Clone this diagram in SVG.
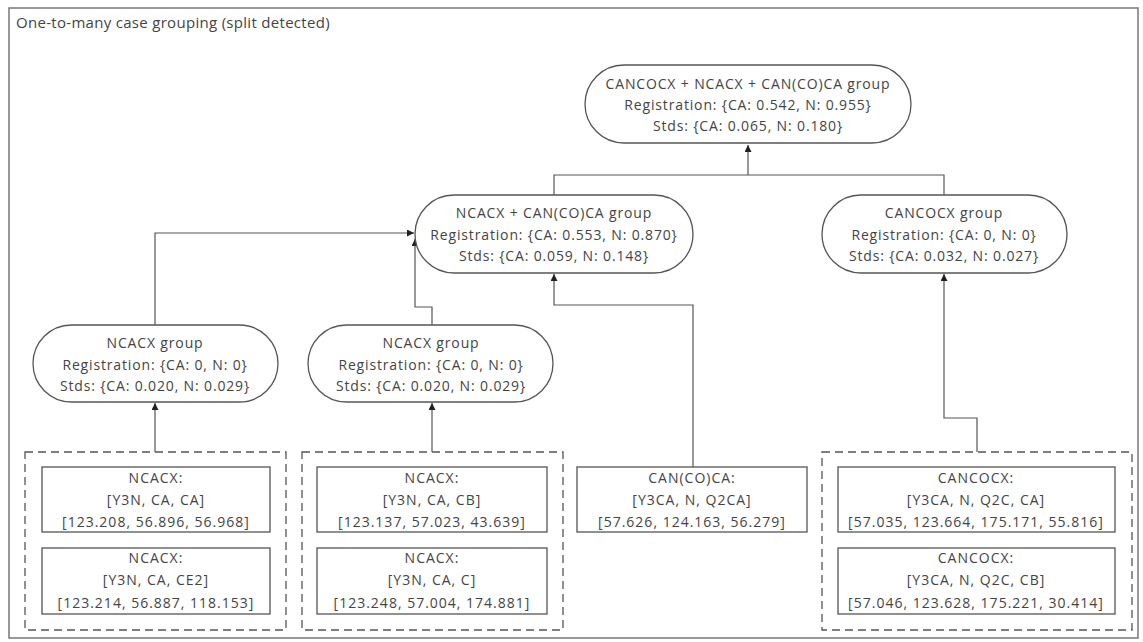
<svg xmlns="http://www.w3.org/2000/svg" width="1143" height="642" viewBox="0 0 1143 642">
  <style>
    text { font-family: "Open Sans", "Liberation Sans", sans-serif; fill: #444; }
    .t { font-size: 14px; letter-spacing: 0.85px; text-anchor: middle; }
    .c { font-size: 14px; letter-spacing: 1px; text-anchor: middle; }
    .title { font-size: 15px; letter-spacing: 0.3px; }
    .pill { fill: #fff; stroke: #555; stroke-width: 1.3; }
    .box { fill: #fff; stroke: #555; stroke-width: 1.3; }
    .dash { fill: none; stroke: #555; stroke-width: 1.3; stroke-dasharray: 8 5; }
    .edge { fill: none; stroke: #555; stroke-width: 1.2; }
  </style>
  <defs>
    <marker id="arr" viewBox="0 0 10 10" refX="10" refY="5" markerWidth="7" markerHeight="7" orient="auto" markerUnits="userSpaceOnUse">
      <path d="M0,0 L10,5 L0,10 Z" fill="#222"/>
    </marker>
  </defs>
  <rect x="0" y="0" width="1143" height="642" fill="#fff"/>
  <!-- frame -->
  <rect x="9" y="8" width="1129" height="630" fill="none" stroke="#777" stroke-width="1.5"/>
  <text class="title" x="16" y="28">One-to-many case grouping (split detected)</text>

  <g id="connectors">
    <path class="edge" d="M554,195 V175 H944 V195"/>
    <path class="edge" d="M748,175 V145" marker-end="url(#arr)"/>
    <path class="edge" d="M155,325 V233 H414" marker-end="url(#arr)"/>
    <path class="edge" d="M432,325 V307 H415 V239" marker-end="url(#arr)"/>
    <path class="edge" d="M693,467 V305 H554 V274" marker-end="url(#arr)"/>
    <path class="edge" d="M977,452 V418 H944 V274" marker-end="url(#arr)"/>
    <path class="edge" d="M155,452 V403" marker-end="url(#arr)"/>
    <path class="edge" d="M432,452 V403" marker-end="url(#arr)"/>
  </g>

  <g id="all-group">
    <rect class="pill" x="585" y="65" width="326" height="78" rx="39"/>
    <text class="t" x="748" y="89">CANCOCX + NCACX + CAN(CO)CA group</text>
    <text class="t" x="748" y="110">Registration: {CA: 0.542, N: 0.955}</text>
    <text class="t" x="748" y="131">Stds: {CA: 0.065, N: 0.180}</text>
  </g>

  <g id="ncacx-cancoca-group">
    <rect class="pill" x="415" y="195" width="278" height="78" rx="39"/>
    <text class="t" x="554" y="218">NCACX + CAN(CO)CA group</text>
    <text class="t" x="554" y="240">Registration: {CA: 0.553, N: 0.870}</text>
    <text class="t" x="554" y="261">Stds: {CA: 0.059, N: 0.148}</text>
  </g>

  <g id="cancocx-group">
    <rect class="pill" x="822" y="195" width="245" height="78" rx="39"/>
    <text class="t" x="944" y="218">CANCOCX group</text>
    <text class="t" x="944" y="240">Registration: {CA: 0, N: 0}</text>
    <text class="t" x="944" y="261">Stds: {CA: 0.032, N: 0.027}</text>
  </g>

  <g id="ncacx-group-1">
    <rect class="pill" x="33" y="325" width="245" height="77" rx="38.5"/>
    <text class="t" x="155" y="348">NCACX group</text>
    <text class="t" x="155" y="370">Registration: {CA: 0, N: 0}</text>
    <text class="t" x="155" y="391">Stds: {CA: 0.020, N: 0.029}</text>
  </g>

  <g id="ncacx-group-2">
    <rect class="pill" x="308" y="325" width="245" height="77" rx="38.5"/>
    <text class="t" x="431" y="348">NCACX group</text>
    <text class="t" x="431" y="370">Registration: {CA: 0, N: 0}</text>
    <text class="t" x="431" y="391">Stds: {CA: 0.020, N: 0.029}</text>
  </g>

  <g id="ncacx-cases-1">
    <rect class="dash" x="25" y="452" width="261" height="178"/>
    <rect class="box" x="42" y="467" width="228" height="65"/>
    <text class="c" x="156" y="483">NCACX:</text>
    <text class="c" x="156" y="505">[Y3N, CA, CA]</text>
    <text class="c" x="156" y="527">[123.208, 56.896, 56.968]</text>
    <rect class="box" x="42" y="548" width="228" height="66"/>
    <text class="c" x="156" y="563">NCACX:</text>
    <text class="c" x="156" y="585">[Y3N, CA, CE2]</text>
    <text class="c" x="156" y="608">[123.214, 56.887, 118.153]</text>
  </g>

  <g id="ncacx-cases-2">
    <rect class="dash" x="302" y="452" width="261" height="178"/>
    <rect class="box" x="317" y="467" width="230" height="65"/>
    <text class="c" x="432" y="483">NCACX:</text>
    <text class="c" x="432" y="505">[Y3N, CA, CB]</text>
    <text class="c" x="432" y="527">[123.137, 57.023, 43.639]</text>
    <rect class="box" x="317" y="548" width="230" height="66"/>
    <text class="c" x="432" y="563">NCACX:</text>
    <text class="c" x="432" y="585">[Y3N, CA, C]</text>
    <text class="c" x="432" y="608">[123.248, 57.004, 174.881]</text>
  </g>

  <g id="cancoca-case">
    <rect class="box" x="577" y="467" width="230" height="65"/>
    <text class="c" x="692" y="483">CAN(CO)CA:</text>
    <text class="c" x="692" y="505">[Y3CA, N, Q2CA]</text>
    <text class="c" x="692" y="527">[57.626, 124.163, 56.279]</text>
  </g>

  <g id="cancocx-cases">
    <rect class="dash" x="822" y="452" width="310" height="178"/>
    <rect class="box" x="838" y="467" width="277" height="65"/>
    <text class="c" x="976" y="483">CANCOCX:</text>
    <text class="c" x="976" y="505">[Y3CA, N, Q2C, CA]</text>
    <text class="c" x="976" y="527">[57.035, 123.664, 175.171, 55.816]</text>
    <rect class="box" x="838" y="548" width="277" height="66"/>
    <text class="c" x="976" y="563">CANCOCX:</text>
    <text class="c" x="976" y="585">[Y3CA, N, Q2C, CB]</text>
    <text class="c" x="976" y="608">[57.046, 123.628, 175.221, 30.414]</text>
  </g>
</svg>
